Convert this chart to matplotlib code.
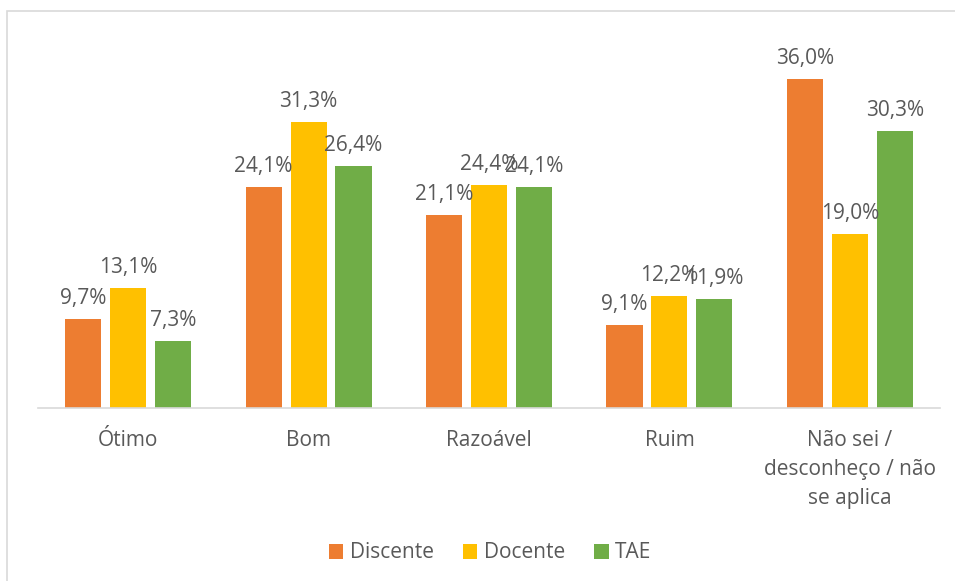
import matplotlib
matplotlib.use("Agg")
import matplotlib.pyplot as plt
import numpy as np
from matplotlib.patches import Rectangle

categories = ["Ótimo", "Bom", "Razoável", "Ruim", "Não sei /\ndesconheço / não\nse aplica"]
series_names = ["Discente", "Docente", "TAE"]
discente = [9.7, 24.1, 21.1, 9.1, 36.0]
docente = [13.1, 31.3, 24.4, 12.2, 19.0]
tae = [7.3, 26.4, 24.1, 11.9, 30.3]
colors = ["#ED7D31", "#FFC000", "#70AD47"]

plt.rcParams['font.family'] = ['Open Sans', 'DejaVu Sans']
txt = "#595959"
fs = 15

fig = plt.figure(figsize=(9.55, 5.81), dpi=100)
W, H = 955, 581
ax = fig.add_axes([38 / W, 1 - 408 / H, (940 - 38) / W, (408 - 42) / H])

x = np.arange(len(categories))
bw = 0.2
step = 0.249
for i, (vals, name, c) in enumerate(zip([discente, docente, tae], series_names, colors)):
    pos = x + (i - 1) * step
    ax.bar(pos, vals, width=bw, color=c, label=name, zorder=2)
    for p, v in zip(pos, vals):
        ax.text(p, v + 1.1, f"{v:.1f}%".replace(".", ","), ha="center", va="bottom",
                fontsize=fs, color=txt)

ax.set_xlim(-0.5, 4.5)
ax.set_ylim(0, 40)
ax.set_yticks([])
for s in ["top", "right", "left"]:
    ax.spines[s].set_visible(False)
ax.spines["bottom"].set_color("#D9D9D9")
ax.spines["bottom"].set_linewidth(1.2)
ax.set_xticks(x)
ax.set_xticklabels(categories, fontsize=fs, color=txt, linespacing=1.5)
ax.tick_params(axis="x", length=0, pad=16)

leg = fig.legend(loc="center", bbox_to_anchor=(490 / W, 1 - 553 / H), ncol=3, frameon=False,
                 fontsize=fs, handlelength=0.7, handleheight=0.7, columnspacing=1.4,
                 handletextpad=0.3)
for t in leg.get_texts():
    t.set_color(txt)

fig.patches.append(Rectangle((7 / W, -0.05), 1.2, 1 - 11 / H + 0.05, transform=fig.transFigure,
                             fill=False, edgecolor="#D9D9D9", linewidth=1.2))

fig.savefig("out.png", dpi=100)
